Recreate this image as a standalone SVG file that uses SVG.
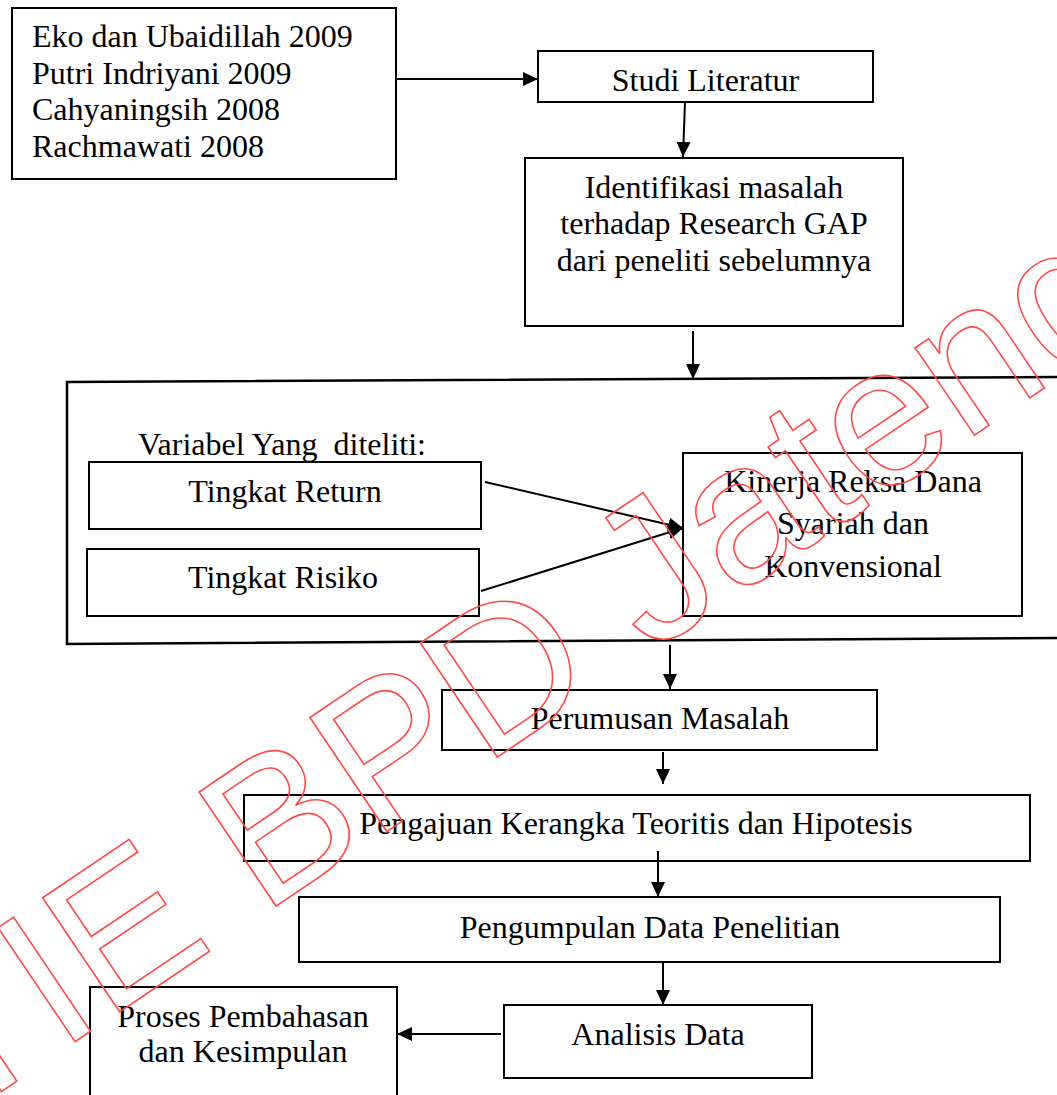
<svg xmlns="http://www.w3.org/2000/svg" width="1057" height="1095" viewBox="0 0 1057 1095">
<style>
.box{fill:none;stroke:#000;stroke-width:2}
.t{font-family:"Liberation Serif","Times New Roman",serif;font-size:32px;fill:#000}
.c{text-anchor:middle}
.ln{fill:none;stroke:#000;stroke-width:2}
.wm{font-family:"Liberation Sans",Arial,sans-serif;font-size:200px;fill:none;stroke:#ff4a4a;stroke-width:1.6}
</style>
<defs>
<marker id="ah" markerUnits="userSpaceOnUse" markerWidth="16" markerHeight="14" refX="15" refY="7" orient="auto">
<path d="M0,0 L15,7 L0,14 z" fill="#000"/>
</marker>
</defs>
<rect width="1057" height="1095" fill="#fff"/>
<g id="container">
<polyline class="ln" style="stroke-width:2.5" points="1057,377 67,382 67,644 1057,638"/>
</g>
<g id="sumber">
<rect class="box" x="12" y="8" width="384" height="171"/>
<text class="t" x="32" y="47">Eko dan Ubaidillah 2009</text>
<text class="t" x="32" y="84">Putri Indriyani 2009</text>
<text class="t" x="32" y="120">Cahyaningsih 2008</text>
<text class="t" x="32" y="157">Rachmawati 2008</text>
</g>
<g id="studi">
<rect class="box" x="538" y="51" width="335" height="51"/>
<text class="t c" x="705.5" y="91">Studi Literatur</text>
</g>
<g id="identifikasi">
<rect class="box" x="525" y="158" width="378" height="168"/>
<text class="t c" x="714" y="198">Identifikasi masalah</text>
<text class="t c" x="714" y="234">terhadap Research GAP</text>
<text class="t c" x="714" y="271">dari peneliti sebelumnya</text>
</g>
<g id="variabel">
<text class="t" x="138" y="455" xml:space="preserve" style="white-space:pre">Variabel Yang  diteliti:</text>
</g>
<g id="return">
<rect class="box" x="89" y="462" width="392" height="67"/>
<text class="t c" x="285" y="502">Tingkat Return</text>
</g>
<g id="risiko">
<rect class="box" x="87" y="549" width="392" height="67"/>
<text class="t c" x="283" y="588">Tingkat Risiko</text>
</g>
<g id="kinerja">
<rect class="box" x="683" y="453" width="339" height="163"/>
<text class="t c" x="853" y="492">Kinerja Reksa Dana</text>
<text class="t c" x="853" y="534">Syariah dan</text>
<text class="t c" x="853" y="577">Konvensional</text>
</g>
<g id="perumusan">
<rect class="box" x="442" y="690" width="435" height="60"/>
<text class="t c" x="660" y="729">Perumusan Masalah</text>
</g>
<g id="pengajuan">
<rect class="box" x="244" y="795" width="786" height="66"/>
<text class="t c" x="636" y="834">Pengajuan Kerangka Teoritis dan Hipotesis</text>
</g>
<g id="pengumpulan">
<rect class="box" x="299" y="897" width="701" height="65"/>
<text class="t c" x="650" y="938">Pengumpulan Data Penelitian</text>
</g>
<g id="analisis">
<rect class="box" x="504" y="1005" width="308" height="73"/>
<text class="t c" x="658" y="1045">Analisis Data</text>
</g>
<g id="proses">
<rect class="box" x="90" y="987" width="307" height="120"/>
<text class="t c" x="243" y="1027">Proses Pembahasan</text>
<text class="t c" x="243" y="1062">dan Kesimpulan</text>
</g>
<g id="connectors">
<line class="ln" x1="396" y1="79" x2="538" y2="79" marker-end="url(#ah)"/>
<line class="ln" x1="685" y1="102" x2="683" y2="157" marker-end="url(#ah)"/>
<line class="ln" x1="693" y1="331" x2="693" y2="379" marker-end="url(#ah)"/>
<line class="ln" x1="485" y1="482" x2="683" y2="528" marker-end="url(#ah)"/>
<line class="ln" x1="481" y1="591" x2="683" y2="528" marker-end="url(#ah)"/>
<line class="ln" x1="670" y1="645" x2="670" y2="689" marker-end="url(#ah)"/>
<line class="ln" x1="663" y1="752" x2="663" y2="784" marker-end="url(#ah)"/>
<line class="ln" x1="658" y1="851" x2="658" y2="897" marker-end="url(#ah)"/>
<line class="ln" x1="663" y1="962" x2="663" y2="1005" marker-end="url(#ah)"/>
<line class="ln" x1="501" y1="1034" x2="397" y2="1034" marker-end="url(#ah)"/>
</g>
<g id="watermark">
<text class="wm" transform="translate(-152,1195) rotate(-34)">STIE BPD Jateng</text>
</g>
</svg>
